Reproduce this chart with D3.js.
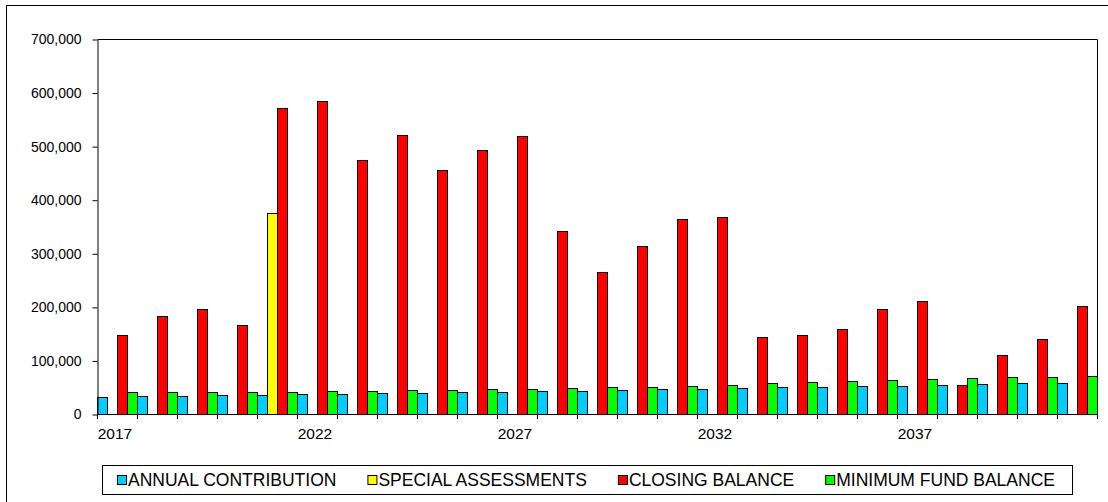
<!DOCTYPE html>
<html>
<head>
<meta charset="utf-8">
<script src="https://cdn.jsdelivr.net/npm/d3@7"></script>
<style>
  html, body { margin: 0; padding: 0; background: #fff; }
  svg { display: block; }
  text { font-family: "Liberation Sans", Arial, sans-serif; fill: #000; }
</style>
</head>
<body>
<svg id="chart" width="1108" height="502"></svg>
<script>
// Reserve fund projection, one group of bars per year
const years = ["2017","2018","2019","2020","2021","2022","2023","2024","2025","2026",
               "2027","2028","2029","2030","2031","2032","2033","2034","2035","2036",
               "2037","2038","2039","2040","2041"];

const annualContribution = [32300, 33000, 34200, 34800, 35500, 36700, 37300, 38600, 39200, 40400,
                            41700, 42300, 43500, 44800, 46000, 47300, 48500, 49800, 50400, 51600,
                            52900, 54100, 55400, 57200, 58500];

const specialAssessments = [0, 0, 0, 0, 375000, 0, 0, 0, 0, 0,
                            0, 0, 0, 0, 0, 0, 0, 0, 0, 0,
                            0, 0, 0, 0, 0];

const closingBalance = [146800, 182200, 195300, 166700, 571000, 583400, 474600, 520000, 455300, 492000,
                        518100, 342100, 264900, 314100, 363800, 367600, 143100, 146800, 158000, 196500,
                        210200, 53500, 109500, 140600, 200900];

const minimumFundBalance = [41000, 41000, 41000, 41000, 41000, 42300, 43500, 44800, 45400, 46000,
                            47300, 48500, 49800, 51000, 52900, 54700, 57200, 59100, 61600, 64100,
                            65300, 66500, 68400, 69700, 70900];

const seriesNames = ["ANNUAL CONTRIBUTION", "SPECIAL ASSESSMENTS", "CLOSING BALANCE", "MINIMUM FUND BALANCE"];
const seriesColors = ["#00CCFF", "#FFFF00", "#FF0000", "#00FF00"];
const yTicks = [0, 100000, 200000, 300000, 400000, 500000, 600000, 700000];
const labelledYears = ["2017", "2022", "2027", "2032", "2037"];

const seriesValues = [annualContribution, specialAssessments, closingBalance, minimumFundBalance];

const svg = d3.select("#chart");

// outer chart frame
svg.append("rect")
  .attr("x", 6.5).attr("y", 5.5)
  .attr("width", 1130).attr("height", 520)
  .attr("fill", "none").attr("stroke", "#000").attr("stroke-width", 1);

const plot = { left: 97, right: 1097, top: 39, bottom: 414 };

const x = d3.scaleBand().domain(years).range([plot.left, plot.right]).padding(0);
const xInner = d3.scaleBand().domain(seriesNames).range([0, x.bandwidth()]).padding(0);
const y = d3.scaleLinear().domain([0, 700000]).range([plot.bottom, plot.top]);

// bars
const rows = years.map((yr, i) => ({ year: yr, values: seriesNames.map((s, k) => ({ key: s, value: seriesValues[k][i], color: seriesColors[k] })) }));

const groups = svg.append("g").selectAll("g")
  .data(rows).join("g")
  .attr("transform", d => `translate(${x(d.year)},0)`);

groups.selectAll("rect")
  .data(d => d.values.filter(v => v.value > 0))
  .join("rect")
  .attr("x", d => xInner(d.key) + 0.5)
  .attr("y", d => Math.round(y(d.value)) + 0.5)
  .attr("width", xInner.bandwidth())
  .attr("height", d => plot.bottom - Math.round(y(d.value)))
  .attr("fill", d => d.color)
  .attr("stroke", "#000")
  .attr("stroke-width", 1);

// plot frame (top and right edges)
svg.append("path")
  .attr("d", `M${plot.left + 0.5},${plot.top + 0.5}H${plot.right + 0.5}V${plot.bottom + 0.5}`)
  .attr("fill", "none").attr("stroke", "#000").attr("stroke-width", 1);

// y axis
const yAxis = d3.axisLeft(y).tickValues(yTicks).tickFormat(d3.format(",")).tickSizeInner(5).tickSizeOuter(0).tickPadding(11);
const yg = svg.append("g").attr("transform", `translate(${plot.left + 0.5},0.5)`).call(yAxis);
yg.selectAll("text").attr("font-size", 14).attr("font-family", "Liberation Sans, Arial, sans-serif");
yg.selectAll("line, path").attr("stroke", "#000");

// x axis: ticks on every category boundary, labels every fifth year
const boundaries = years.map(yr => x(yr)).concat([plot.right]);
const xg = svg.append("g");
xg.append("line")
  .attr("x1", plot.left).attr("x2", plot.right + 1)
  .attr("y1", plot.bottom + 0.5).attr("y2", plot.bottom + 0.5)
  .attr("stroke", "#000");
xg.selectAll("line.tick")
  .data(boundaries).join("line")
  .attr("class", "tick")
  .attr("x1", d => d + 0.5).attr("x2", d => d + 0.5)
  .attr("y1", plot.bottom).attr("y2", plot.bottom + 5)
  .attr("stroke", "#000");
xg.selectAll("text")
  .data(labelledYears).join("text")
  .attr("x", d => x(d) + x.bandwidth() / 2 - 2)
  .attr("y", 439)
  .attr("text-anchor", "middle")
  .attr("font-size", 15.5)
  .text(d => d);

// legend
const legend = svg.append("g");
legend.append("rect")
  .attr("x", 102.5).attr("y", 465.5)
  .attr("width", 970).attr("height", 29)
  .attr("fill", "#fff").attr("stroke", "#000");

let lx = 117;
seriesNames.forEach((name, k) => {
  legend.append("rect")
    .attr("x", lx + 0.5).attr("y", 475.5)
    .attr("width", 9).attr("height", 9)
    .attr("fill", seriesColors[k]).attr("stroke", "#000");
  const t = legend.append("text")
    .attr("x", lx + 11).attr("y", 486)
    .attr("font-size", 17.5)
    .text(name);
  lx = lx + 11 + t.node().getComputedTextLength() + 31;
});
</script>
</body>
</html>
